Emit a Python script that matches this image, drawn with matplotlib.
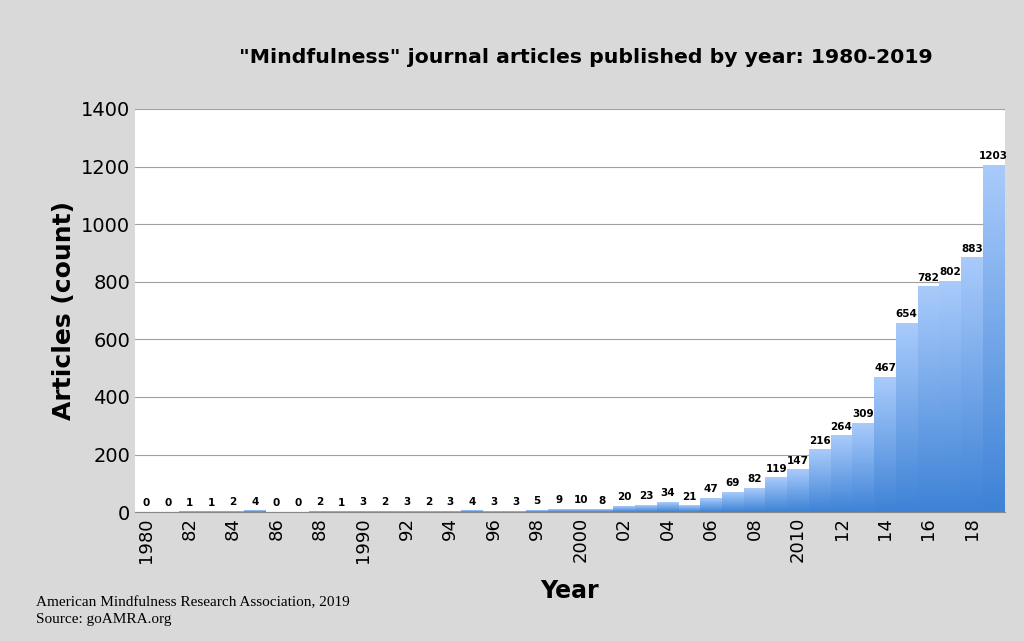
import matplotlib
matplotlib.use("Agg")
import matplotlib.pyplot as plt
import numpy as np

years = list(range(1980, 2020))
counts = [0,0,1,1,2,4,0,0,2,1,
          3,2,3,2,3,4,3,3,5,9,
          10,8,20,23,34,21,47,69,82,119,
          147,216,264,309,467,654,782,802,883,1203]
tick_labels = ["1980","82","84","86","88","1990","92","94","96","98",
               "2000","02","04","06","08","2010","12","14","16","18"]

fig = plt.figure(figsize=(10.24, 6.41), dpi=100)
fig.patch.set_facecolor("#d9d9d9")
ax = fig.add_axes([0.132, 0.201, 0.849, 0.629])
ax.set_facecolor("white")
ax.set_yticks(range(0, 1401, 200))
ax.yaxis.grid(True, color="#a0a0a0", lw=0.8)
ax.set_axisbelow(True)

grad = np.linspace(0, 1, 256).reshape(-1, 1)
cmap = matplotlib.colors.LinearSegmentedColormap.from_list("g", ["#3d82d6", "#a9cbfb"])
bars = ax.bar(range(len(years)), counts, width=1.0, color="none", edgecolor="none")
for i, (b, v) in enumerate(zip(bars, counts)):
    if v > 0:
        ax.imshow(grad, extent=[i - 0.5, i + 0.5, 0, v], origin="lower", cmap=cmap,
                  aspect="auto", zorder=2, vmin=0, vmax=1)
    ax.text(i, v + 15, str(v), ha="center", va="bottom", fontsize=7.5, fontweight="bold")
ax.set_xlim(-0.5, len(years) - 0.5)
ax.set_ylim(0, 1400)

ax.set_xticks(range(0, len(years), 2))
ax.set_xticklabels(tick_labels, rotation=90, fontsize=13)
ax.tick_params(axis="y", labelsize=14, length=0)
ax.tick_params(axis="x", length=0)
for s in ["top", "right", "left"]:
    ax.spines[s].set_visible(False)
ax.spines["bottom"].set_color("#888888")

ax.set_ylabel("Articles (count)", fontsize=18, fontweight="bold")
ax.set_xlabel("Year", fontsize=17, fontweight="bold", labelpad=12)
fig.text(0.572, 0.91, '"Mindfulness" journal articles published by year: 1980-2019',
         ha="center", va="center", fontsize=14.7, fontweight="bold")
fig.text(0.035, 0.055, "American Mindfulness Research Association, 2019", fontsize=11,
         family="Liberation Serif")
fig.text(0.035, 0.028, "Source: goAMRA.org", fontsize=11, family="Liberation Serif")
fig.savefig("out.png", dpi=100, facecolor=fig.get_facecolor())
